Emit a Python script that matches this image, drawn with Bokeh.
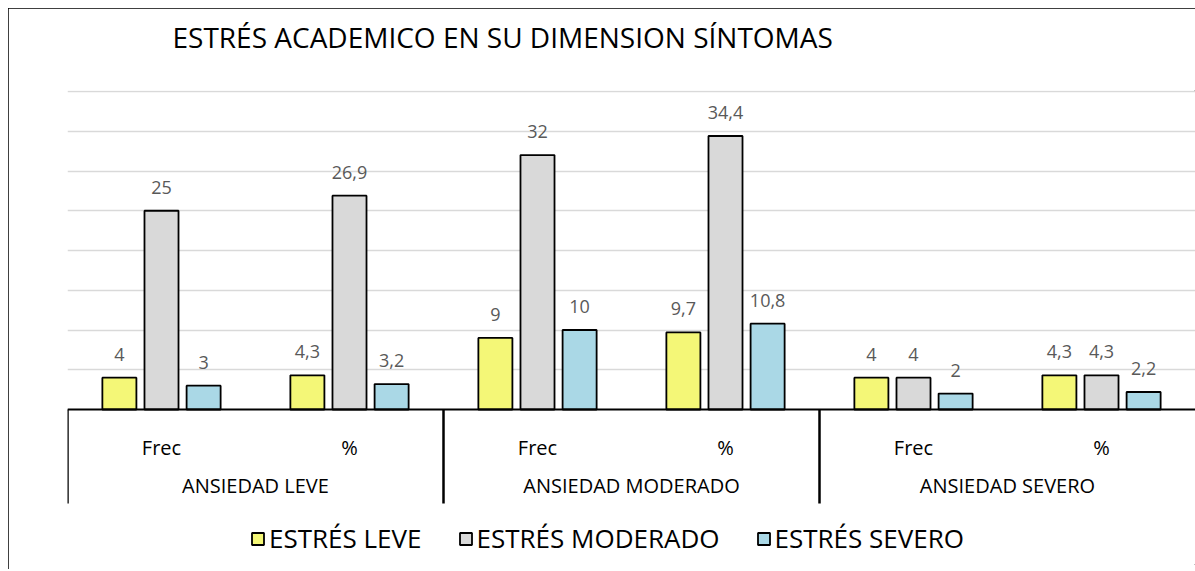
from bokeh.plotting import figure
from bokeh.models import ColumnDataSource, FactorRange, LabelSet, Legend, LegendItem, Range1d, FixedTicker, Title
from bokeh.transform import dodge
from bokeh.core.properties import value
from bokeh.embed import file_html
from bokeh.resources import INLINE

# ---- data ----
groups = ["ANSIEDAD LEVE", "ANSIEDAD MODERADO", "ANSIEDAD SEVERO"]
subs = ["Frec", "%"]
series = ["ESTRÉS LEVE", "ESTRÉS MODERADO", "ESTRÉS SEVERO"]
estres_leve = [4, 4.3, 9, 9.7, 4, 4.3]
estres_moderado = [25, 26.9, 32, 34.4, 4, 4.3]
estres_severo = [3, 3.2, 10, 10.8, 2, 2.2]
grid_ticks = [5, 10, 15, 20, 25, 30, 35, 40]
title_text = "ESTRÉS ACADEMICO EN SU DIMENSION SÍNTOMAS"

colors = ["#F4F777", "#D9D9D9", "#AAD8E6"]
FONT = "Open Sans"

factors = [(g, s) for g in groups for s in subs]
values = [estres_leve, estres_moderado, estres_severo]

def fmt(v):
    return ("%g" % v).replace(".", ",")

PX_PER_UNIT = 7.95
y_top = 40 + 1 / PX_PER_UNIT
y_bottom = -155 / PX_PER_UNIT      # room below the baseline for the category table and legend
sep_len = -94 / PX_PER_UNIT

p = figure(frame_width=1128, frame_height=474,
           output_backend="svg", toolbar_location=None,
           x_range=FactorRange(*factors, group_padding=0, factor_padding=0, range_padding=0),
           y_range=Range1d(y_bottom, y_top),
           min_border_left=59, min_border_right=0)
p.margin = (8, 0, 0, 8)
p.outline_line_color = None
p.styles = {"outline": "1px solid black", "outline-offset": "-1px"}

p.title.text = title_text
p.title.align = "left"
p.title.offset = 105
p.title.standoff = 14
p.title.text_font = FONT
p.title.text_font_size = "28px"
p.title.text_font_style = "normal"
p.title.text_color = "#000000"
p.add_layout(Title(text=" ", text_font_size="23px", standoff=0), "above")

p.yaxis.visible = False
p.xgrid.visible = False
p.ygrid.ticker = FixedTicker(ticks=grid_ticks)
p.ygrid.grid_line_color = "#D9D9D9"
p.ygrid.grid_line_width = 1.5

offsets = [-0.224, 0.0, 0.224]
renderers = []
for name, vals, col, off in zip(series, values, colors, offsets):
    src = ColumnDataSource(dict(x=factors, top=vals, lab=[fmt(v) for v in vals]))
    r = p.vbar(x=dodge("x", off, range=p.x_range), top="top", bottom=0, width=0.181, source=src,
               fill_color=col, line_color="#000000", line_width=1.8)
    renderers.append(r)
    p.add_layout(LabelSet(x=dodge("x", off, range=p.x_range), y="top", text="lab", source=src,
                          y_offset=17, text_align="center", text_baseline="alphabetic",
                          text_font=value(FONT), text_font_size=value("18px"),
                          text_color="#595959"))

# group separators of the category table (left edge of each group)
sep_src = ColumnDataSource(dict(x=[(g, subs[0]) for g in groups], y0=[0] * len(groups),
                                y1=[sep_len] * len(groups)))
p.segment(x0=dodge("x", -0.5, range=p.x_range), x1=dodge("x", -0.5, range=p.x_range),
          y0="y0", y1="y1", source=sep_src, line_color="#000000", line_width=2.5)

ax = p.xaxis[0]
ax.fixed_location = 0
ax.axis_line_color = "#000000"
ax.axis_line_width = 2
ax.major_tick_line_color = None
ax.major_tick_in = 0
ax.major_tick_out = 16
ax.minor_tick_line_color = None
ax.major_label_text_font = FONT
ax.major_label_text_font_size = "20px"
ax.major_label_text_color = "#000000"
ax.group_text_font = FONT
ax.group_text_font_size = "20px"
ax.group_text_color = "#000000"
ax.group_text_font_style = "normal"
ax.major_label_standoff = 8
ax.separator_line_color = None

legend = Legend(items=[LegendItem(label=s, renderers=[r]) for s, r in zip(series, renderers)],
                orientation="horizontal", location=(183, 8))
legend.label_text_font = FONT
legend.label_text_font_size = "26px"
legend.label_text_color = "#000000"
legend.glyph_width = 15
legend.glyph_height = 15
legend.label_standoff = 4
legend.spacing = 36
legend.padding = 0
legend.margin = 0
legend.border_line_color = None
legend.background_fill_color = None
p.add_layout(legend)

open("out.html", "w").write(file_html(p, INLINE))
